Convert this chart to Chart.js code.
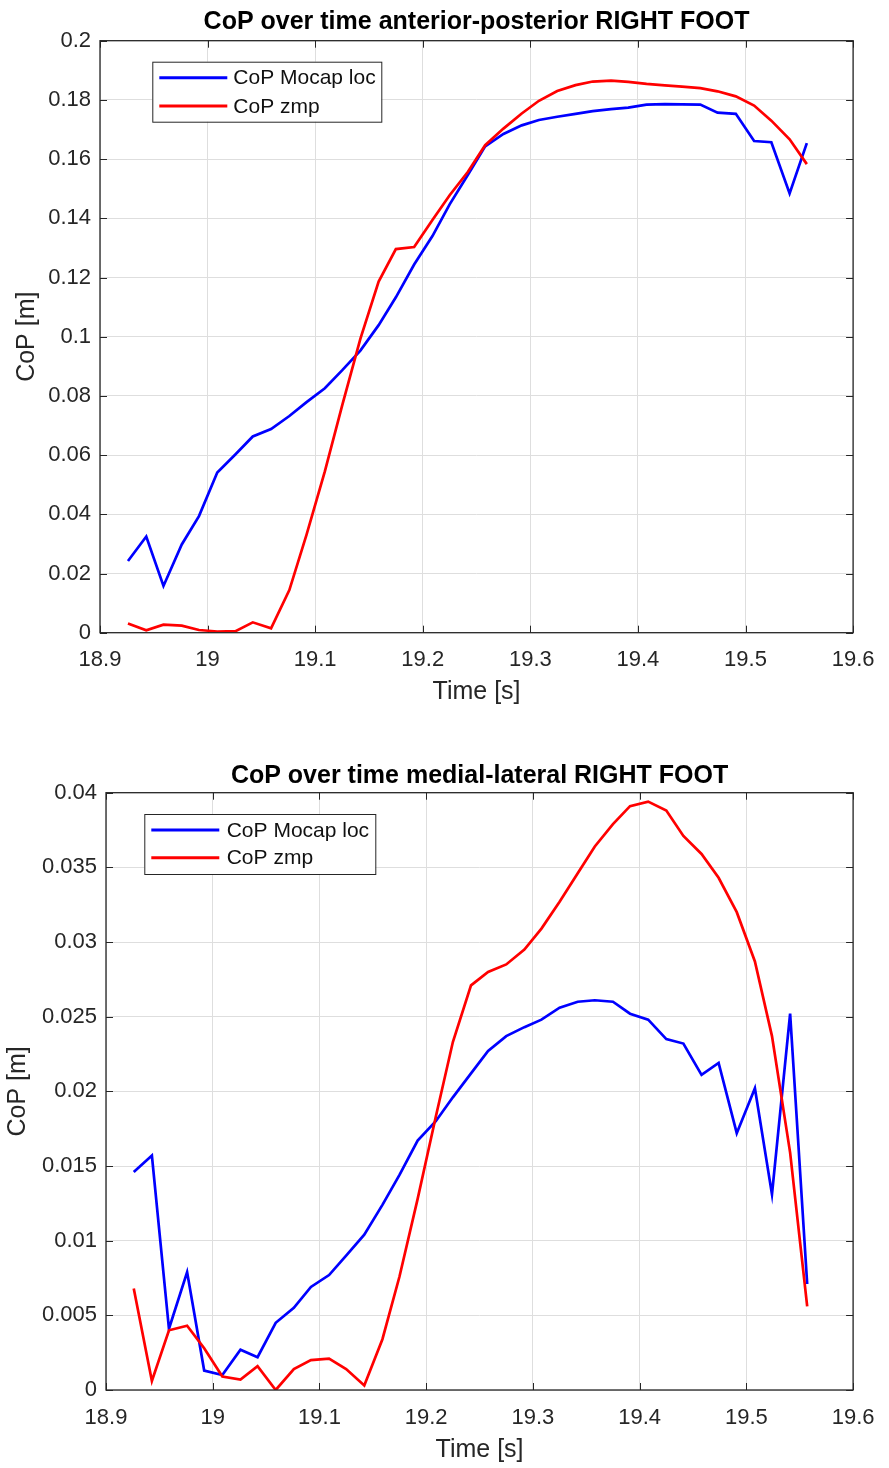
<!DOCTYPE html>
<html>
<head>
<meta charset="utf-8">
<script src="https://cdn.jsdelivr.net/npm/chart.js@4.4.1/dist/chart.umd.min.js"></script>
<style>
  html, body { margin: 0; padding: 0; background: #ffffff; }
  #wrap { position: relative; width: 889px; height: 1468px; }
  .panel { position: absolute; left: 0; width: 889px; }
  #apBox { top: 0; height: 720px; }
  #mlBox { top: 720px; height: 748px; }
</style>
</head>
<body>
<div id="wrap">
  <div class="panel" id="apBox"><canvas id="apChart" width="889" height="720"></canvas></div>
  <div class="panel" id="mlBox"><canvas id="mlChart" width="889" height="748"></canvas></div>
</div>
<script>
// Sample times (s), shared by both recordings
const timeS = [18.926, 18.943, 18.959, 18.976, 18.992, 19.009, 19.026, 19.042, 19.059, 19.076,
               19.092, 19.109, 19.125, 19.142, 19.159, 19.175, 19.192, 19.209, 19.225, 19.242,
               19.258, 19.275, 19.292, 19.308, 19.325, 19.342, 19.358, 19.375, 19.391, 19.408,
               19.425, 19.441, 19.458, 19.474, 19.491, 19.508, 19.524, 19.541, 19.557];

// Anterior-posterior CoP (m)
const apMocap = [0.0242, 0.0325, 0.0158, 0.0298, 0.0394, 0.0541, 0.0603, 0.0663, 0.0688, 0.0732,
                 0.0779, 0.0826, 0.0886, 0.0953, 0.1039, 0.1133, 0.1244, 0.1340, 0.1447, 0.1547,
                 0.1643, 0.1685, 0.1714, 0.1732, 0.1743, 0.1753, 0.1762, 0.1769, 0.1774, 0.1784,
                 0.1786, 0.1785, 0.1784, 0.1757, 0.1753, 0.1661, 0.1657, 0.1484, 0.1654];
const apZmp = [0.0031, 0.0008, 0.0027, 0.0024, 0.0009, 0.0004, 0.0005, 0.0035, 0.0015, 0.0144,
               0.0331, 0.0545, 0.0766, 0.0993, 0.1186, 0.1296, 0.1303, 0.1394, 0.1478, 0.1557,
               0.1647, 0.1703, 0.1754, 0.1797, 0.1830, 0.1850, 0.1862, 0.1865, 0.1861, 0.1854,
               0.1849, 0.1845, 0.1840, 0.1829, 0.1812, 0.1781, 0.1730, 0.1667, 0.1583];

// Medial-lateral CoP (m)
const mlMocap = [0.0146, 0.0157, 0.0041, 0.0079, 0.0013, 0.0010, 0.0027, 0.0022, 0.0045, 0.0055,
                 0.0069, 0.0077, 0.0090, 0.0104, 0.0124, 0.0144, 0.0167, 0.0180, 0.0196, 0.0212,
                 0.0227, 0.0237, 0.0243, 0.0248, 0.0256, 0.0260, 0.0261, 0.0260, 0.0252, 0.0248,
                 0.0235, 0.0232, 0.0211, 0.0219, 0.0172, 0.0202, 0.0131, 0.0252, 0.0071];
const mlZmp = [0.0068, 0.0006, 0.0040, 0.0043, 0.0028, 0.0009, 0.0007, 0.0016, 0.0000, 0.0014,
               0.0020, 0.0021, 0.0014, 0.0003, 0.0034, 0.0076, 0.0128, 0.0183, 0.0233, 0.0271,
               0.0280, 0.0285, 0.0295, 0.0309, 0.0327, 0.0346, 0.0364, 0.0379, 0.0391, 0.0394,
               0.0388, 0.0371, 0.0359, 0.0343, 0.0320, 0.0287, 0.0237, 0.0159, 0.0056];

// Axis ticks
const timeTicks = [18.9, 19.0, 19.1, 19.2, 19.3, 19.4, 19.5, 19.6];
const timeTickLabels = ['18.9', '19', '19.1', '19.2', '19.3', '19.4', '19.5', '19.6'];
const apTicks = [0, 0.02, 0.04, 0.06, 0.08, 0.1, 0.12, 0.14, 0.16, 0.18, 0.2];
const apTickLabels = ['0', '0.02', '0.04', '0.06', '0.08', '0.1', '0.12', '0.14', '0.16', '0.18', '0.2'];
const mlTicks = [0, 0.005, 0.01, 0.015, 0.02, 0.025, 0.03, 0.035, 0.04];
const mlTickLabels = ['0', '0.005', '0.01', '0.015', '0.02', '0.025', '0.03', '0.035', '0.04'];

const seriesLabels = ['CoP Mocap loc', 'CoP zmp'];
const seriesColors = ['#0000ff', '#ff0000'];

const FONT = "'Liberation Sans', Arial, Helvetica, sans-serif";
const AXIS_COLOR = '#262626';
const GRID_COLOR = '#dedede';

function toPoints(values) {
  return values.map((v, i) => ({ x: timeS[i], y: v }));
}

// Box outline, inward tick marks, a title centred on the plot and an in-plot legend
const boxedAxes = {
  id: 'boxedAxes',
  beforeDatasetsDraw(chart) {
    const { ctx, chartArea: a, scales } = chart;
    const len = 7;
    ctx.save();
    ctx.strokeStyle = AXIS_COLOR;
    ctx.lineWidth = 1;
    ctx.beginPath();
    scales.x.ticks.forEach(t => {
      const px = Math.round(scales.x.getPixelForValue(t.value)) + 0.5;
      ctx.moveTo(px, a.bottom); ctx.lineTo(px, a.bottom - len);
      ctx.moveTo(px, a.top); ctx.lineTo(px, a.top + len);
    });
    scales.y.ticks.forEach(t => {
      const py = Math.round(scales.y.getPixelForValue(t.value)) + 0.5;
      ctx.moveTo(a.left, py); ctx.lineTo(a.left + len, py);
      ctx.moveTo(a.right, py); ctx.lineTo(a.right - len, py);
    });
    ctx.stroke();
    ctx.restore();
  },
  afterDatasetsDraw(chart, args, opts) {
    const { ctx, chartArea: a } = chart;
    ctx.save();
    ctx.strokeStyle = AXIS_COLOR;
    ctx.lineWidth = 1.3;
    ctx.strokeRect(a.left, a.top, a.right - a.left, a.bottom - a.top);

    // title
    ctx.fillStyle = '#000000';
    ctx.font = 'bold 25px ' + FONT;
    ctx.textAlign = 'center';
    ctx.textBaseline = 'middle';
    ctx.fillText(opts.title, (a.left + a.right) / 2, opts.titleY);

    // legend
    const bx = a.left + opts.dx, by = a.top + opts.dy;
    ctx.fillStyle = '#ffffff';
    ctx.fillRect(bx, by, opts.w, opts.h);
    ctx.lineWidth = 1;
    ctx.strokeStyle = AXIS_COLOR;
    ctx.strokeRect(bx + 0.5, by + 0.5, opts.w, opts.h);
    ctx.font = '21px ' + FONT;
    ctx.textBaseline = 'middle';
    ctx.textAlign = 'left';
    chart.data.datasets.forEach((ds, i) => {
      const ry = by + opts.rows[i];
      ctx.strokeStyle = ds.borderColor;
      ctx.lineWidth = 3;
      ctx.beginPath();
      ctx.moveTo(bx + 7, ry);
      ctx.lineTo(bx + 75, ry);
      ctx.stroke();
      ctx.fillStyle = '#111111';
      ctx.fillText(ds.label, bx + opts.textX, ry + 1);
    });
    ctx.restore();
  }
};

function makeChart(canvasId, cfg) {
  const datasets = cfg.series.map((vals, i) => ({
    label: seriesLabels[i],
    data: toPoints(vals),
    borderColor: seriesColors[i],
    backgroundColor: seriesColors[i],
    borderWidth: 2.7,
    pointRadius: 0,
    tension: 0,
    fill: false,
    order: 2 - i
  }));
  return new Chart(document.getElementById(canvasId), {
    type: 'line',
    data: { datasets },
    plugins: [boxedAxes],
    options: {
      responsive: false,
      animation: false,
      devicePixelRatio: 1,
      layout: { padding: { left: 0, right: cfg.rightPad, top: cfg.topPad, bottom: 0 } },
      plugins: {
        legend: { display: false },
        tooltip: { enabled: false },
        title: { display: false },
        boxedAxes: cfg.decor
      },
      scales: {
        x: {
          type: 'linear',
          min: 18.9,
          max: 19.6,
          afterBuildTicks: s => { s.ticks = timeTicks.map(v => ({ value: v })); },
          afterFit: s => { s.height = cfg.xHeight; },
          ticks: {
            autoSkip: false,
            maxRotation: 0,
            padding: 14.5,
            color: AXIS_COLOR,
            font: { family: FONT, size: 22 },
            callback: (v, i) => timeTickLabels[i]
          },
          grid: { color: GRID_COLOR, drawTicks: false, lineWidth: 1 },
          border: { display: false },
          title: {
            display: true,
            text: 'Time [s]',
            color: AXIS_COLOR,
            font: { family: FONT, size: 25, lineHeight: 1.2 },
            padding: { top: 0, bottom: cfg.xTitlePad }
          }
        },
        y: {
          type: 'linear',
          min: cfg.yTicks[0],
          max: cfg.yTicks[cfg.yTicks.length - 1],
          afterBuildTicks: s => { s.ticks = cfg.yTicks.map(v => ({ value: v })); },
          afterFit: s => { s.width = cfg.yWidth; },
          ticks: {
            autoSkip: false,
            padding: 9,
            color: AXIS_COLOR,
            font: { family: FONT, size: 22 },
            callback: (v, i) => cfg.yLabels[i]
          },
          grid: { color: GRID_COLOR, drawTicks: false, lineWidth: 1 },
          border: { display: false },
          title: {
            display: true,
            text: 'CoP [m]',
            color: AXIS_COLOR,
            font: { family: FONT, size: 25, lineHeight: 1.2 },
            padding: { top: cfg.yTitlePad, bottom: 0 }
          }
        }
      }
    }
  });
}

makeChart('apChart', {
  series: [apMocap, apZmp],
  yTicks: apTicks,
  yLabels: apTickLabels,
  rightPad: 35.7,
  topPad: 40.7,
  yWidth: 100,
  xHeight: 87.3,
  xTitlePad: 12.5,
  yTitlePad: 12,
  decor: {
    title: 'CoP over time anterior-posterior RIGHT FOOT', titleY: 22.5,
    dx: 52.3, dy: 21, w: 229, h: 60, rows: [16, 44.3], textX: 81
  }
});

makeChart('mlChart', {
  series: [mlMocap, mlZmp],
  yTicks: mlTicks,
  yLabels: mlTickLabels,
  rightPad: 24.7,
  topPad: 72.7,
  yWidth: 106,
  xHeight: 78,
  xTitlePad: 2.5,
  yTitlePad: 3,
  decor: {
    title: 'CoP over time medial-lateral RIGHT FOOT', titleY: 56,
    dx: 38.3, dy: 21.3, w: 231, h: 60, rows: [16, 43.7], textX: 82.4
  }
});
</script>
</body>
</html>
